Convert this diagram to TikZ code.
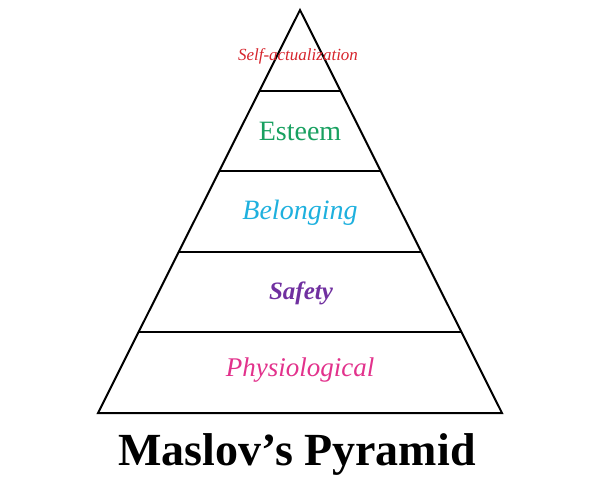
\documentclass[tikz,border=0pt]{standalone}
\usepackage{fontspec}
\setmainfont{Liberation Serif}
\usetikzlibrary{positioning,calc}

\definecolor{selfred}{RGB}{214,36,44}
\definecolor{esteemgreen}{RGB}{24,160,96}
\definecolor{belongblue}{RGB}{30,176,222}
\definecolor{safetypurple}{RGB}{112,48,160}
\definecolor{physiopink}{RGB}{226,50,140}

\tikzstyle{level} = [inner sep=0pt, font=\itshape]
\tikzstyle{edge} = [draw, line width=2pt, line join=miter]
\tikzstyle{title} = [inner sep=0pt, anchor=base, font=\bfseries\fontsize{46}{50}\selectfont]

\begin{document}
\begin{tikzpicture}[x=1pt, y=-1pt]
    \useasboundingbox (0,0) rectangle (600,480);
    % We start by placing the corners of the pyramid
    \coordinate (apex) at (300,10);
    \coordinate (baseleft) at (98,413);
    \coordinate (baseright) at (502,413);
    \draw [edge] (apex) -- (baseright) -- (baseleft) -- cycle;

    % the dividing lines between the levels
    \foreach \k in {1,...,4} {
        \coordinate (l\k) at ($(apex)!\k/5!(baseleft)$);
        \coordinate (r\k) at ($(apex)!\k/5!(baseright)$);
        \draw [edge] (l\k) -- (r\k);
    }

    % labels of the levels
    \node [level, text=selfred, font=\itshape\fontsize{17}{19}\selectfont] (self) at (298,56) {Self-actualization};
    \node [level, text=esteemgreen, font=\fontsize{28}{30}\selectfont] (esteem) at (300,131) {Esteem};
    \node [level, text=belongblue, font=\itshape\fontsize{28}{30}\selectfont] (belonging) at (300,213) {Belonging};
    \node [level, text=safetypurple, font=\bfseries\itshape\fontsize{25}{27}\selectfont] (safety) at (301,293) {Safety};
    \node [level, text=physiopink, font=\itshape\fontsize{27}{30}\selectfont] (physio) at (300,370) {Physiological};

    \node [title] (name) at (297,465) {Maslov’s Pyramid};
\end{tikzpicture}
\end{document}
